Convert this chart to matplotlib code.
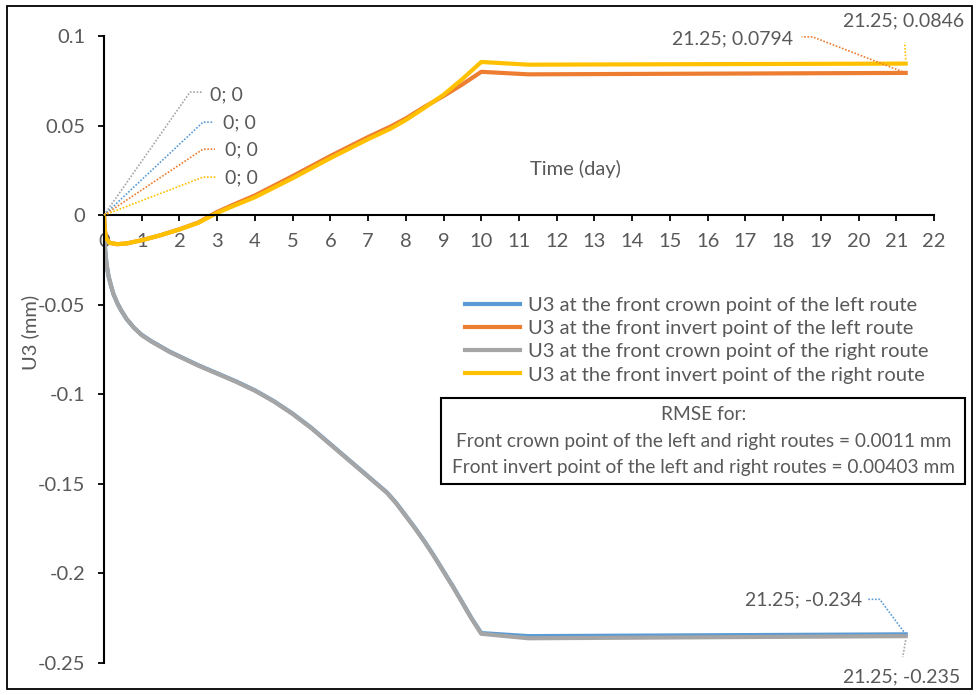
import numpy as np
import matplotlib
matplotlib.use("Agg")
import matplotlib.pyplot as plt
import matplotlib.ticker as mtick
from matplotlib.lines import Line2D
from matplotlib.patches import Rectangle
from matplotlib.transforms import IdentityTransform

plt.rcParams['font.family'] = ['Lato', 'DejaVu Sans']
plt.rcParams['axes.unicode_minus'] = False

TEXT = '#595959'
BLUE = '#5B9BD5'
ORANGE = '#ED7D31'
GRAY = '#A5A5A5'
YELLOW = '#FFC000'
FS = 14.5

# crown points (time in days, U3 in mm)
crown_t = [0, 0.005, 0.01, 0.02, 0.03, 0.05, 0.08, 0.12, 0.18, 0.25, 0.35, 0.45, 0.6, 0.8,
           1.0, 1.25, 1.5, 1.75, 2.0, 2.5, 3.0, 3.5, 4.0, 4.5, 5.0, 5.5, 6.0, 6.5, 7.0,
           7.5, 7.75, 8.0, 8.25, 8.5, 8.75, 9.0, 9.25, 9.5, 9.75, 10.0, 11.25, 21.25]
crown_left = [0, -0.005, -0.009, -0.015, -0.019, -0.024, -0.029, -0.034, -0.039, -0.044,
              -0.049, -0.053, -0.058, -0.063, -0.0668, -0.0703, -0.0733, -0.0763, -0.0788,
              -0.0838, -0.0883, -0.0928, -0.0978, -0.1038, -0.1108, -0.1188, -0.1278,
              -0.1368, -0.1458, -0.1548, -0.1608, -0.1678, -0.1748, -0.1823, -0.1903,
              -0.1988, -0.2073, -0.2163, -0.2253, -0.2333, -0.2350, -0.234]
crown_right = [0, -0.005, -0.009, -0.015, -0.019, -0.024, -0.029, -0.034, -0.039, -0.044,
               -0.049, -0.053, -0.058, -0.063, -0.067, -0.0705, -0.0735, -0.0765, -0.079,
               -0.084, -0.0885, -0.093, -0.098, -0.104, -0.111, -0.119, -0.128, -0.137,
               -0.146, -0.155, -0.161, -0.168, -0.175, -0.1825, -0.1905, -0.199, -0.2075,
               -0.2165, -0.2255, -0.2337, -0.2362, -0.235]

# invert points
invert_t = [0, 0.02, 0.06, 0.15, 0.35, 0.6, 1.0, 1.5, 2.0, 2.5, 3.0, 3.5, 4.0, 5.0,
            6.0, 7.0, 7.6, 8.0, 8.5, 9.0, 9.5, 10.0, 11.25, 21.25]
invert_left = [0, -0.008, -0.013, -0.0155, -0.0162, -0.0158, -0.0140, -0.0112, -0.0079,
               -0.0041, 0.0018, 0.0065, 0.0110, 0.0218, 0.0330, 0.0436, 0.0495, 0.0540,
               0.0605, 0.0665, 0.0730, 0.0800, 0.0786, 0.0794]
invert_right = [0, -0.008, -0.013, -0.0155, -0.0162, -0.0158, -0.0140, -0.0112, -0.0080,
                -0.0043, 0.0013, 0.0057, 0.0100, 0.0206, 0.0318, 0.0424, 0.0483, 0.0531,
                0.0600, 0.0672, 0.0760, 0.0855, 0.0840, 0.0846]

labels = ['U3 at the front crown point of the left route',
          'U3 at the front invert point of the left route',
          'U3 at the front crown point of the right route',
          'U3 at the front invert point of the right route']

rmse_lines = ['RMSE for:',
              'Front crown point of the left and right routes = 0.0011 mm',
              'Front invert point of the left and right routes = 0.00403 mm']

W, H = 977, 695
fig = plt.figure(figsize=(W / 100, H / 100), dpi=100)
ax = fig.add_axes([104 / W, 32 / H, 830 / W, 627 / H])

ax.plot(crown_t, crown_left, color=BLUE, lw=3, label=labels[0], solid_joinstyle='round')
ax.plot(invert_t, invert_left, color=ORANGE, lw=3, label=labels[1], solid_joinstyle='round')
ax.plot(crown_t, crown_right, color=GRAY, lw=3, label=labels[2], solid_joinstyle='round')
ax.plot(invert_t, invert_right, color=YELLOW, lw=3, label=labels[3], solid_joinstyle='round')

ax.set_xlim(0, 22)
ax.set_ylim(-0.25, 0.1)
ax.xaxis.set_major_locator(mtick.MultipleLocator(1))
ax.yaxis.set_major_locator(mtick.MultipleLocator(0.05))
ax.yaxis.set_major_formatter(mtick.FuncFormatter(lambda v, p: '%g' % round(v, 3)))

for s in ['top', 'right']:
    ax.spines[s].set_visible(False)
ax.spines['bottom'].set_position(('data', 0))
for s in ['left', 'bottom']:
    ax.spines[s].set_linewidth(1.5)
ax.tick_params(axis='both', direction='out', length=4.5, width=1.3, colors='black',
               labelcolor=TEXT, labelsize=FS)
ax.tick_params(axis='y', pad=9)
ax.tick_params(axis='x', pad=8)

fig.text(30 / W, 1 - 332 / H, 'U3 (mm)', rotation=90, ha='center', va='center',
         fontsize=FS, color=TEXT)
fig.text(575 / W, 1 - 169 / H, 'Time (day)', ha='center', va='center',
         fontsize=FS, color=TEXT)

leg = fig.legend(loc='upper left', bbox_to_anchor=(465 / W, 1 - 297 / H), frameon=False,
                 fontsize=FS, handlelength=2.73, handletextpad=0.4, labelspacing=0.3,
                 borderpad=0, borderaxespad=0)
for t in leg.get_texts():
    t.set_color(TEXT)

fig.add_artist(Rectangle((441 / W, 1 - 484 / H), 524 / W, 86 / H, transform=fig.transFigure,
                         fill=False, edgecolor='black', lw=1.5))
for txt, yy in zip(rmse_lines, [414, 442, 467]):
    fig.text(704 / W, 1 - yy / H, txt, ha='center', va='center', fontsize=13.8, color=TEXT)

# outer chart border
fig.add_artist(Rectangle((6.5 / W, 6.5 / H), 965 / W, 683 / H, transform=fig.transFigure,
                         fill=False, edgecolor='black', lw=1.3))

fig.canvas.draw()


def data_label(x, y, text, color, path, tpos, ha):
    # path and tpos are pixel offsets from the data point (dy measured downward)
    px, py = ax.transData.transform((x, y))
    xs = [px + dx for dx, dy in path]
    ys = [py - dy for dx, dy in path]
    fig.add_artist(Line2D(xs, ys, transform=IdentityTransform(), color=color, lw=1.2,
                          linestyle=(0, (1, 1))))
    fig.text((px + tpos[0]) / W, (py - tpos[1]) / H, text, ha=ha, va='center',
             fontsize=14, color=TEXT)


data_label(crown_t[0], crown_right[0], '0; 0', GRAY, [(0, 0), (86, -123), (99, -123)], (106, -120), 'left')
data_label(crown_t[0], crown_left[0], '0; 0', BLUE, [(0, 0), (99, -93), (109, -93)], (119, -92), 'left')
data_label(invert_t[0], invert_left[0], '0; 0', ORANGE, [(0, 0), (99, -66), (111, -66)], (121, -65), 'left')
data_label(invert_t[0], invert_right[0], '0; 0', YELLOW, [(0, 0), (99, -38), (113, -38)], (121, -37), 'left')

data_label(invert_t[-1], invert_left[-1], '21.25; %g' % invert_left[-1], ORANGE,
           [(0, 0), (-93, -36), (-104, -36)], (-113, -34), 'right')
data_label(invert_t[-1], invert_right[-1], '21.25; %g' % invert_right[-1], YELLOW,
           [(0, -4), (-1, -21)], (-2, -43), 'center')
data_label(crown_t[-1], crown_left[-1], '21.25; %g' % crown_left[-1], BLUE,
           [(0, 0), (-26, -35), (-39, -35)], (-44, -34), 'right')
data_label(crown_t[-1], crown_right[-1], '21.25; %g' % crown_right[-1], GRAY,
           [(0, 4), (-3, 21)], (-4, 41), 'center')

fig.savefig('out.png', dpi=100)
